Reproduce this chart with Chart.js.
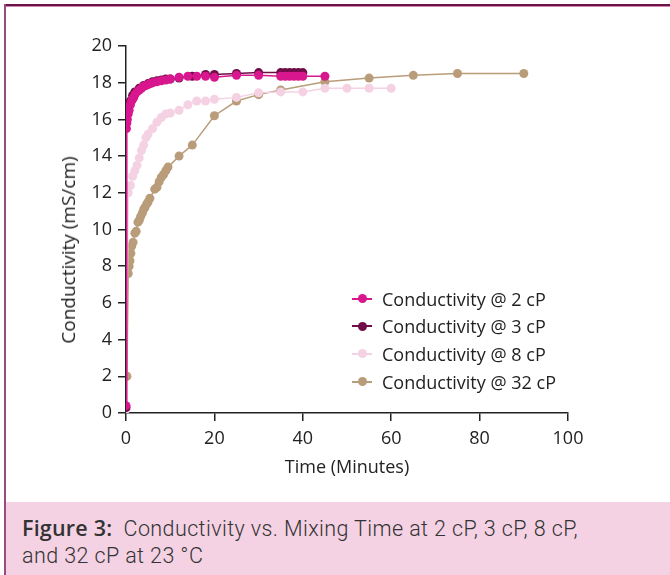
<!DOCTYPE html>
<html>
<head>
<meta charset="utf-8">
<script src="https://cdn.jsdelivr.net/npm/chart.js@4"></script>
<style>
  html, body { margin: 0; padding: 0; background: #fff; }
  body { width: 670px; height: 575px; position: relative; overflow: hidden; font-family: "Open Sans", sans-serif; }
  #wrap { position: absolute; left: 0; top: 0; width: 670px; height: 502px; }
  .top-line { position: absolute; left: 4px; right: 0; top: 4px; height: 2px; background: #6d1149; }
  .top-line2 { position: absolute; left: 4px; right: 0; top: 6px; height: 1px; background: #cf86b2; }
  .left-line { position: absolute; left: 4px; top: 4px; width: 2px; bottom: 0; background: #9a4c80; }
  .caption { position: absolute; left: 6px; right: 0; top: 502px; bottom: 0; background: #f4d2e3; }
  .caption p { margin: 0; position: absolute; left: 16px; top: 12px; font-family: Roboto, sans-serif; font-weight: 300; font-size: 21.5px; line-height: 27px; letter-spacing: 0.4px; color: #333; white-space: nowrap; }
  .caption b { font-family: "Open Sans", sans-serif; font-weight: 600; font-size: 21.5px; letter-spacing: 0.2px; }
  .ytitle { position: absolute; left: 68px; top: 250px; transform: translate(-50%, -50%) rotate(-90deg); white-space: nowrap; font-size: 19px; color: #222; }
  .legend { position: absolute; left: 352px; top: 285px; }
  .legend div { height: 27.6px; display: flex; align-items: center; font-size: 18px; color: #222; }
  .legend i { position: relative; width: 20px; height: 2px; margin-right: 10px; }
  .legend i::after { content: ""; position: absolute; left: 6px; top: -3.5px; width: 9px; height: 9px; border-radius: 50%; background: inherit; }
</style>
</head>
<body>
<div id="wrap"><canvas id="chart" width="670" height="502"></canvas></div>
<div class="ytitle">Conductivity (mS/cm)</div>
<div class="legend" id="legend"></div>
<div class="top-line"></div>
<div class="top-line2"></div>
<div class="left-line"></div>
<div class="caption"><p><b>Figure 3:</b>&nbsp; Conductivity vs. Mixing Time at 2 cP, 3 cP, 8 cP,<br>and 32 cP at 23 °C</p></div>
<script>
// time in minutes, conductivity in mS/cm
const time2 = [0, 0.1, 0.2, 0.3, 0.5, 0.7, 1, 1.25, 1.5, 1.75, 2, 2.5, 3, 3.5, 4, 4.5, 5, 5.5, 6, 7, 8, 9, 10, 12, 14, 16, 18, 20, 25, 30, 35, 36, 37, 38, 39, 40, 45];
const cond2 = [0.4, 15.5, 15.8, 16.0, 16.3, 16.5, 16.8, 17.0, 17.1, 17.2, 17.35, 17.5, 17.6, 17.7, 17.8, 17.85, 17.9, 17.95, 18.0, 18.05, 18.1, 18.15, 18.2, 18.3, 18.35, 18.35, 18.35, 18.3, 18.4, 18.4, 18.35, 18.35, 18.35, 18.35, 18.35, 18.35, 18.35];

const time3 = [0, 0.1, 0.3, 0.5, 1, 1.5, 2, 3, 4, 5, 6, 7, 8, 9, 10, 12, 15, 18, 20, 25, 30, 35, 36, 37, 38, 39, 40];
const cond3 = [0.3, 16.0, 16.4, 16.7, 17.0, 17.3, 17.5, 17.7, 17.85, 17.95, 18.05, 18.1, 18.15, 18.2, 18.2, 18.25, 18.35, 18.45, 18.45, 18.5, 18.55, 18.55, 18.55, 18.55, 18.55, 18.55, 18.55];

const time8 = [0, 0.5, 1, 1.5, 2, 2.5, 3, 3.5, 4, 4.5, 5, 6, 7, 8, 9, 10, 12, 14, 16, 18, 20, 25, 30, 35, 40, 45, 50, 55, 60];
const cond8 = [0.2, 12.0, 12.4, 12.9, 13.2, 13.5, 13.9, 14.3, 14.6, 15.0, 15.2, 15.5, 15.85, 16.1, 16.3, 16.35, 16.5, 16.8, 17.0, 17.0, 17.1, 17.2, 17.45, 17.5, 17.5, 17.7, 17.7, 17.7, 17.7];

const time32 = [0.2, 0.5, 0.7, 0.9, 1.1, 1.3, 1.6, 2.0, 2.3, 2.7, 3.0, 3.3, 3.7, 4.0, 4.3, 4.7, 5.0, 5.4, 6.5, 7.0, 7.5, 8.0, 8.5, 9.0, 9.5, 12, 15, 20, 25, 30, 35, 45, 55, 65, 75, 90];
const cond32 = [2.0, 7.6, 8.0, 8.3, 8.7, 9.1, 9.3, 9.8, 9.9, 10.4, 10.5, 10.7, 10.9, 11.1, 11.2, 11.4, 11.5, 11.7, 12.2, 12.3, 12.6, 12.85, 13.0, 13.2, 13.4, 14.0, 14.6, 16.2, 17.0, 17.35, 17.6, 18.05, 18.25, 18.4, 18.5, 18.5];

const xTicks = [0, 20, 40, 60, 80, 100];
const yTicks = [0, 2, 4, 6, 8, 10, 12, 14, 16, 18, 20];

const series = [
  { label: "Conductivity @ 2 cP", t: time2, v: cond2, color: "#d8168e", z: 0 },
  { label: "Conductivity @ 3 cP", t: time3, v: cond3, color: "#6e0d47", z: 1 },
  { label: "Conductivity @ 8 cP", t: time8, v: cond8, color: "#f5d2e3", z: 2 },
  { label: "Conductivity @ 32 cP", t: time32, v: cond32, color: "#b99c79", z: 3 }
];

const toPoints = (t, v) => t.map((x, i) => ({ x, y: v[i] }));

const legendEl = document.getElementById("legend");
series.forEach((s) => {
  const row = document.createElement("div");
  row.innerHTML = `<i style="background:${s.color}"></i>${s.label}`;
  legendEl.appendChild(row);
});

const axisColor = "#222";
const fontFamily = "'Open Sans', sans-serif";
const tickFont = { family: fontFamily, size: 18 };

new Chart(document.getElementById("chart").getContext("2d"), {
  type: "line",
  data: {
    datasets: series.map((s) => ({
      label: s.label,
      data: toPoints(s.t, s.v),
      borderColor: s.color,
      backgroundColor: s.color,
      borderWidth: 1.5,
      pointRadius: 4.5,
      pointBorderWidth: 0,
      pointBackgroundColor: s.color,
      tension: 0,
      fill: false,
      order: s.z
    }))
  },
  options: {
    responsive: false,
    animation: false,
    events: [],
    layout: { padding: { left: 60, right: 102, top: 46, bottom: 23 } },
    plugins: { legend: { display: false }, tooltip: { enabled: false } },
    scales: {
      x: {
        type: "linear",
        min: 0,
        max: 100,
        afterBuildTicks: (scale) => { scale.ticks = xTicks.map((value) => ({ value })); },
        afterFit: (scale) => { scale.height = 66; },
        border: { color: axisColor, width: 1.5 },
        grid: { drawOnChartArea: false, drawTicks: true, tickLength: 8, color: axisColor, lineWidth: 1.5 },
        ticks: { color: axisColor, font: tickFont, padding: 7, maxRotation: 0 },
        title: { display: true, text: "Time (Minutes)", color: axisColor, font: { family: fontFamily, size: 18 }, padding: { top: 4, bottom: 0 } }
      },
      y: {
        type: "linear",
        min: 0,
        max: 20,
        afterBuildTicks: (scale) => { scale.ticks = yTicks.map((value) => ({ value })); },
        afterFit: (scale) => { scale.width = 66; },
        border: { color: axisColor, width: 1.5 },
        grid: { drawOnChartArea: false, drawTicks: true, tickLength: 8, color: axisColor, lineWidth: 1.5 },
        ticks: { color: axisColor, font: tickFont, padding: 6 }
      }
    }
  }
});
</script>
</body>
</html>
